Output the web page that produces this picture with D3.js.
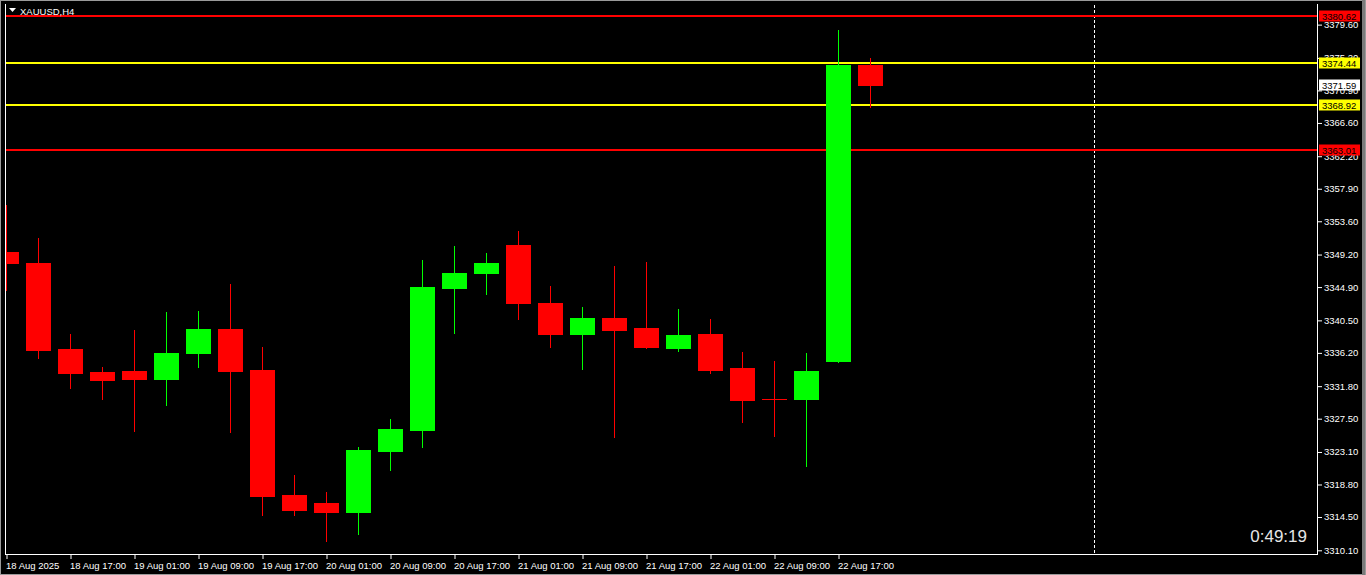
<!DOCTYPE html>
<html>
<head>
<meta charset="utf-8">
<script src="https://cdn.jsdelivr.net/npm/d3@7"></script>
<style>
html,body{margin:0;padding:0;background:#000;overflow:hidden;}
svg{display:block;}
text{font-family:"Liberation Sans",Arial,sans-serif;}
</style>
</head>
<body>
<svg id="c" width="1366" height="575"></svg>
<script>
// ---------- DATA ----------
const symbol = "XAUUSD,H4";
const barTimes = ["18 Aug 09:00","18 Aug 13:00","18 Aug 17:00","18 Aug 21:00","19 Aug 01:00","19 Aug 05:00","19 Aug 09:00","19 Aug 13:00","19 Aug 17:00","19 Aug 21:00","20 Aug 01:00","20 Aug 05:00","20 Aug 09:00","20 Aug 13:00","20 Aug 17:00","20 Aug 21:00","21 Aug 01:00","21 Aug 05:00","21 Aug 09:00","21 Aug 13:00","21 Aug 17:00","21 Aug 21:00","22 Aug 01:00","22 Aug 05:00","22 Aug 09:00","22 Aug 13:00","22 Aug 17:00","22 Aug 21:00"];
const openVals  = [3349.42,3347.97,3336.62,3333.59,3333.72,3332.67,3336.10,3339.26,3333.85,3317.36,3316.31,3315.12,3323.17,3325.94,3344.67,3346.65,3350.34,3342.69,3338.60,3340.71,3339.39,3336.76,3338.60,3334.12,3330.05,3330.03,3335.04,3374.22];
const highVals  = [3355.66,3351.27,3338.60,3334.25,3339.13,3341.51,3341.64,3345.20,3336.89,3320.00,3317.76,3323.70,3327.39,3348.37,3350.21,3349.29,3352.19,3344.94,3342.17,3347.57,3348.10,3341.90,3340.58,3336.23,3335.04,3336.10,3378.84,3375.15];
const lowVals   = [3344.41,3335.44,3331.48,3330.03,3325.81,3329.24,3334.25,3325.67,3314.72,3314.72,3311.29,3312.22,3320.66,3323.70,3338.74,3343.88,3340.58,3336.93,3333.99,3325.01,3336.76,3336.36,3333.46,3326.99,3325.15,3321.19,3334.91,3368.68];
const closeVals = [3347.97,3336.49,3333.46,3332.53,3332.67,3336.10,3339.26,3333.72,3317.23,3315.38,3315.12,3323.30,3326.07,3344.80,3346.65,3347.97,3342.69,3338.60,3340.71,3339.13,3336.89,3338.47,3333.85,3329.90,3330.00,3333.72,3374.22,3371.59];
const xTickIndex  = [0,2,4,6,8,10,12,14,16,18,20,22,24,26];
const xTickLabels = ["18 Aug 2025","18 Aug 17:00","19 Aug 01:00","19 Aug 09:00","19 Aug 17:00","20 Aug 01:00","20 Aug 09:00","20 Aug 17:00","21 Aug 01:00","21 Aug 09:00","21 Aug 17:00","22 Aug 01:00","22 Aug 09:00","22 Aug 17:00"];
const yTickLabels = ["3379.60","3375.20","3370.90","3366.60","3362.20","3357.90","3353.60","3349.20","3344.90","3340.50","3336.20","3331.80","3327.50","3323.10","3318.80","3314.50","3310.10"];
const levelValues = [3380.62, 3374.44, 3368.92, 3363.01];
const levelKinds  = ["red","yellow","yellow","red"];
const vLineIndex = 34;
const timerText = "0:49:19";

// ---------- LAYOUT ----------
const svg = d3.select("#c");
const W = 1366, H = 575;
const pLeft = 6, pRight = 1317, pTop = 5, pBottom = 554;
const colors = {red:"#ff0000", yellow:"#ffff00", up:"#00ff00", down:"#ff0000"};

const x = d3.scaleLinear().domain([0, 27]).range([6, 870]);
const y = d3.scaleLinear().domain([3363.01, 3380.62]).range([149.6, 16.4]);

svg.append("rect").attr("width", W).attr("height", H).attr("fill", "#000");

svg.append("clipPath").attr("id","clip").append("rect")
  .attr("x", pLeft).attr("y", pTop).attr("width", pRight-pLeft).attr("height", pBottom-pTop);

const plot = svg.append("g").attr("clip-path","url(#clip)");

// vertical dashed line
plot.append("line")
  .attr("x1", x(vLineIndex)+0.5).attr("x2", x(vLineIndex)+0.5)
  .attr("y1", pTop).attr("y2", pBottom)
  .attr("stroke", "#ffffff").attr("stroke-width", 1).attr("stroke-dasharray", "3,2");

// horizontal levels
plot.selectAll("line.level").data(levelValues).enter().append("line")
  .attr("class","level")
  .attr("x1", pLeft).attr("x2", pRight)
  .attr("y1", d => Math.round(y(d))).attr("y2", d => Math.round(y(d)))
  .attr("stroke", (d,i) => colors[levelKinds[i]]).attr("stroke-width", 2);

// candles
const bars = d3.range(barTimes.length).map(i => ({i, t:barTimes[i], o:openVals[i], h:highVals[i], l:lowVals[i], c:closeVals[i]}));
const cg = plot.selectAll("g.bar").data(bars).enter().append("g").attr("class","bar");
cg.append("rect")
  .attr("x", d => x(d.i))
  .attr("y", d => Math.round(y(d.h)))
  .attr("width", 1)
  .attr("height", d => Math.round(y(d.l)) - Math.round(y(d.h)) + 1)
  .attr("fill", d => d.c >= d.o ? colors.up : colors.down);
cg.append("rect")
  .attr("x", d => x(d.i) - 12)
  .attr("y", d => Math.round(y(Math.max(d.o, d.c))))
  .attr("width", 25)
  .attr("height", d => Math.round(y(Math.min(d.o, d.c))) - Math.round(y(Math.max(d.o, d.c))) + 1)
  .attr("fill", d => d.c >= d.o ? colors.up : colors.down);

// frame
const frame = svg.append("g").attr("stroke", "#ffffff").attr("stroke-width", 1);
frame.append("line").attr("x1", 5.5).attr("x2", 5.5).attr("y1", 4).attr("y2", pBottom+1);
frame.append("line").attr("x1", pRight+0.5).attr("x2", pRight+0.5).attr("y1", 4).attr("y2", pBottom+1);
frame.append("line").attr("x1", 5).attr("x2", pRight+1).attr("y1", pBottom+0.5).attr("y2", pBottom+0.5);

// outer gray window border
svg.append("rect").attr("x", 0.5).attr("y", 0.5).attr("width", W-1).attr("height", H-1)
  .attr("fill","none").attr("stroke","#9a9a9a").attr("stroke-width",1);
svg.append("line").attr("x1", 1363.5).attr("x2", 1363.5).attr("y1", 0).attr("y2", H)
  .attr("stroke","#7a7a7a").attr("stroke-width",3);

// y axis
const yAxis = d3.axisRight(y)
  .tickValues(yTickLabels.map(Number))
  .tickFormat((d,i) => yTickLabels[i])
  .tickSize(4).tickPadding(2);
const ya = svg.append("g").attr("transform", `translate(${pRight+1},0)`).call(yAxis);
ya.select(".domain").remove();
ya.selectAll(".tick line").attr("stroke","#ffffff").attr("transform","translate(0,0.5)");
ya.selectAll(".tick text").attr("fill","#ffffff").attr("font-size","9.5px")
  .attr("font-family","Liberation Sans, Arial, sans-serif").attr("dy","0.36em");

// x axis
const xAxis = d3.axisBottom(x)
  .tickValues(xTickIndex)
  .tickFormat((d,i) => xTickLabels[i])
  .tickSize(4).tickPadding(3);
const xa = svg.append("g").attr("transform", `translate(0.5,${pBottom+1})`).call(xAxis);
xa.select(".domain").remove();
xa.selectAll(".tick line").attr("stroke","#ffffff");
xa.selectAll(".tick text").attr("fill","#ffffff").attr("font-size","9.5px")
  .attr("font-family","Liberation Sans, Arial, sans-serif")
  .attr("text-anchor","start").attr("x", -1);

// level price labels
const lbl = svg.append("g");
const boxes = levelValues.map((v,i) => ({v, fill: colors[levelKinds[i]], txt:"#000"}));
boxes.push({v: closeVals[closeVals.length-1], fill:"#ffffff", txt:"#000"});
lbl.selectAll("rect").data(boxes).enter().append("rect")
  .attr("x", pRight+2).attr("y", d => Math.round(y(d.v)) - 5.5)
  .attr("width", 41).attr("height", 11).attr("fill", d => d.fill);
lbl.selectAll("text").data(boxes).enter().append("text")
  .attr("x", pRight+5).attr("y", d => Math.round(y(d.v)) + 3.5)
  .attr("font-size","9.5px").attr("fill", d => d.txt)
  .text(d => d.v.toFixed(2));

// title
svg.append("path").attr("d","M9,8 L16,8 L12.5,12 Z").attr("fill","#ffffff");
svg.append("text").attr("x", 20).attr("y", 14.5).attr("fill","#ffffff")
  .attr("font-size","9.5px").text(symbol);

// timer
svg.append("text").attr("x", 1307).attr("y", 542).attr("text-anchor","end")
  .attr("fill","#e6e6e6").attr("font-size","17px").text(timerText);
</script>
</body>
</html>
